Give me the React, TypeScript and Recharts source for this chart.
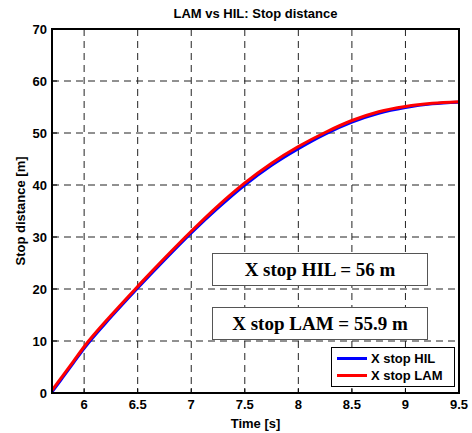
import { LineChart, Line, XAxis, YAxis, CartesianGrid } from 'recharts';

const TIME = [5.7, 5.8, 5.9, 6.0, 6.25, 6.5, 6.75, 7.0, 7.25, 7.5, 7.75, 8.0, 8.25, 8.5, 8.75, 9.0, 9.25, 9.5];
const STOP_HIL = [0.2, 3.0, 5.8, 8.6, 14.6, 20.2, 25.6, 30.8, 35.6, 40.0, 43.8, 47.0, 49.8, 52.1, 53.8, 54.9, 55.6, 55.9];
const STOP_LAM = [0.5, 3.3, 6.1, 8.9, 14.9, 20.5, 25.9, 31.1, 36.0, 40.4, 44.2, 47.4, 50.1, 52.4, 54.1, 55.1, 55.7, 56.0];
const X_TICKS = [6, 6.5, 7, 7.5, 8, 8.5, 9, 9.5];
const Y_TICKS = [0, 10, 20, 30, 40, 50, 60, 70];
const SERIES = [
  { key: 'hil', name: 'X stop HIL', color: '#0000ff' },
  { key: 'lam', name: 'X stop LAM', color: '#ff0000' },
];

const data = TIME.map((t, i) => ({ t, hil: STOP_HIL[i], lam: STOP_LAM[i] }));

const FONT = 'Liberation Sans, Arial, sans-serif';
const TICK_LEN = 5;

const BottomTick = (props: any) => {
  const { x, y, payload } = props;
  const axisY = y - 8;
  return (
    <g>
      <line x1={x} y1={axisY} x2={x} y2={axisY - TICK_LEN} stroke="#000" strokeWidth={1} />
      <text x={x} y={y + 8} textAnchor="middle" fontFamily={FONT} fontWeight="bold" fontSize={13} fill="#000">
        {payload.value}
      </text>
    </g>
  );
};

const TopTick = (props: any) => {
  const { x, y } = props;
  return <line x1={x} y1={y} x2={x} y2={y + TICK_LEN} stroke="#000" strokeWidth={1} />;
};

const LeftTick = (props: any) => {
  const { x, y, payload } = props;
  const axisX = x + 5;
  return (
    <g>
      <line x1={axisX} y1={y} x2={axisX + TICK_LEN} y2={y} stroke="#000" strokeWidth={1} />
      <text x={x} y={y + 5} textAnchor="end" fontFamily={FONT} fontWeight="bold" fontSize={13} fill="#000">
        {payload.value}
      </text>
    </g>
  );
};

const RightTick = (props: any) => {
  const { x, y } = props;
  return <line x1={x} y1={y} x2={x - TICK_LEN} y2={y} stroke="#000" strokeWidth={1} />;
};

const boxStyle: React.CSSProperties = {
  position: 'absolute',
  left: 212,
  width: 216,
  height: 33,
  border: '1px solid #555',
  background: '#fff',
  fontFamily: 'Liberation Serif, Times New Roman, serif',
  fontWeight: 'bold',
  fontSize: 19,
  display: 'flex',
  alignItems: 'center',
  justifyContent: 'center',
  boxSizing: 'border-box',
};

export default function App() {
  return (
    <div style={{ position: 'absolute', left: 0, top: 0, width: 472, height: 433, background: '#fff' }}>
      <div
        style={{
          position: 'absolute',
          left: 52,
          width: 407,
          top: 6,
          textAlign: 'center',
          fontFamily: FONT,
          fontWeight: 'bold',
          fontSize: 13,
          lineHeight: '16px',
        }}
      >
        LAM vs HIL: Stop distance
      </div>
      <LineChart width={472} height={433} data={data} margin={{ top: 29, right: 13, bottom: 0, left: 12 }}>
        <CartesianGrid xAxisId="b" yAxisId="l" stroke="#222" strokeDasharray="7 5" strokeWidth={1} />
        <XAxis
          xAxisId="b"
          dataKey="t"
          type="number"
          domain={[5.7, 9.5]}
          ticks={X_TICKS}
          allowDataOverflow
          height={40}
          tickSize={0}
          tickMargin={8}
          tickLine={false}
          axisLine={{ stroke: '#000', strokeWidth: 2 }}
          tick={<BottomTick />}
          label={{ value: 'Time [s]', position: 'insideBottom', offset: 5, fontFamily: FONT, fontWeight: 'bold', fontSize: 13, fill: '#000' }}
        />
        <XAxis
          xAxisId="t"
          orientation="top"
          dataKey="t"
          type="number"
          domain={[5.7, 9.5]}
          ticks={X_TICKS}
          allowDataOverflow
          height={0}
          tickSize={0}
          tickMargin={0}
          tickLine={false}
          axisLine={{ stroke: '#000', strokeWidth: 2 }}
          tick={<TopTick />}
        />
        <YAxis
          yAxisId="l"
          type="number"
          domain={[0, 70]}
          ticks={Y_TICKS}
          width={40}
          tickSize={0}
          tickMargin={5}
          tickLine={false}
          axisLine={{ stroke: '#000', strokeWidth: 2 }}
          tick={<LeftTick />}
          label={{ value: 'Stop distance [m]', angle: -90, position: 'insideLeft', offset: 8, style: { textAnchor: 'middle' }, fontFamily: FONT, fontWeight: 'bold', fontSize: 13, fill: '#000' }}
        />
        <YAxis
          yAxisId="r"
          orientation="right"
          type="number"
          domain={[0, 70]}
          ticks={Y_TICKS}
          width={0}
          tickSize={0}
          tickMargin={0}
          tickLine={false}
          axisLine={{ stroke: '#000', strokeWidth: 2 }}
          tick={<RightTick />}
        />
        {SERIES.map((s) => (
          <Line
            key={s.key}
            xAxisId="b"
            yAxisId="l"
            type="monotone"
            dataKey={s.key}
            name={s.name}
            stroke={s.color}
            strokeWidth={3}
            dot={false}
            isAnimationActive={false}
          />
        ))}
      </LineChart>
      <div
        style={{
          position: 'absolute',
          left: 51,
          top: 28,
          width: 409,
          height: 366,
          border: '2px solid #000',
          boxSizing: 'border-box',
          pointerEvents: 'none',
        }}
      />
      <div style={{ ...boxStyle, top: 253 }}>X stop HIL = 56 m</div>
      <div style={{ ...boxStyle, top: 307 }}>X stop LAM = 55.9 m</div>
      <div
        style={{
          position: 'absolute',
          left: 331,
          top: 347,
          width: 124,
          boxSizing: 'border-box',
          border: '1px solid #000',
          background: '#fff',
          padding: '2px 0 2px 5px',
          fontFamily: FONT,
          fontWeight: 'bold',
          fontSize: 13,
          lineHeight: '17px',
        }}
      >
        {SERIES.map((s) => (
          <div key={s.key} style={{ display: 'flex', alignItems: 'center' }}>
            <span style={{ display: 'inline-block', width: 30, height: 3, background: s.color, marginRight: 4 }} />
            {s.name}
          </div>
        ))}
      </div>
    </div>
  );
}
